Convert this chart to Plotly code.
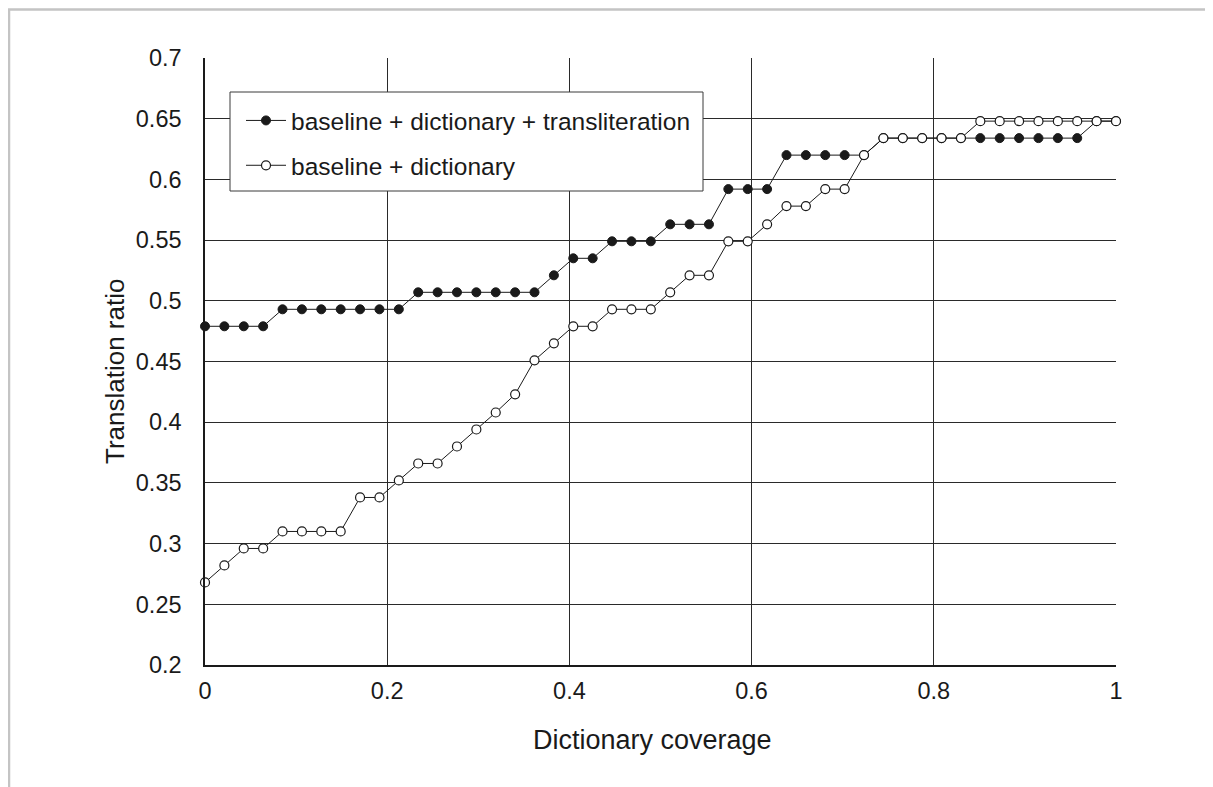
import plotly.graph_objects as go

# Dictionary coverage (48 evenly spaced steps from 0 to 1)
n_points = 48
coverage = [i / (n_points - 1) for i in range(n_points)]

# baseline + dictionary + transliteration (filled markers)
with_translit = [
    0.479, 0.479, 0.479, 0.479,
    0.493, 0.493, 0.493, 0.493, 0.493, 0.493, 0.493,
    0.507, 0.507, 0.507, 0.507, 0.507, 0.507, 0.507,
    0.521,
    0.535, 0.535,
    0.549, 0.549, 0.549,
    0.563, 0.563, 0.563,
    0.592, 0.592, 0.592,
    0.620, 0.620, 0.620, 0.620, 0.620,
    0.634, 0.634, 0.634, 0.634, 0.634, 0.634, 0.634, 0.634, 0.634, 0.634, 0.634,
    0.648, 0.648,
]

# baseline + dictionary (open markers)
dict_only = [
    0.268, 0.282, 0.296, 0.296,
    0.310, 0.310, 0.310, 0.310,
    0.338, 0.338, 0.352, 0.366, 0.366, 0.380, 0.394, 0.408,
    0.423, 0.451, 0.465, 0.479, 0.479,
    0.493, 0.493, 0.493, 0.507, 0.521, 0.521,
    0.549, 0.549, 0.563, 0.578, 0.578, 0.592, 0.592,
    0.620,
    0.634, 0.634, 0.634, 0.634, 0.634,
    0.648, 0.648, 0.648, 0.648, 0.648, 0.648, 0.648, 0.648,
]

series_names = ["baseline + dictionary + transliteration", "baseline + dictionary"]
x_ticks = [0, 0.2, 0.4, 0.6, 0.8, 1]
x_tick_text = ["0", "0.2", "0.4", "0.6", "0.8", "1"]
y_ticks = [0.2, 0.25, 0.3, 0.35, 0.4, 0.45, 0.5, 0.55, 0.6, 0.65, 0.7]
y_tick_text = ["0.2", "0.25", "0.3", "0.35", "0.4", "0.45", "0.5", "0.55", "0.6", "0.65", "0.7"]
x_title = "Dictionary coverage"
y_title = "Translation ratio"

FONT = "Liberation Sans, Arial, sans-serif"
INK = "#1a1a1a"

fig = go.Figure()
fig.add_trace(go.Scatter(
    x=coverage, y=with_translit, name=series_names[0], legendgroup="a",
    mode="lines+markers",
    line=dict(color=INK, width=1),
    marker=dict(symbol="circle", size=9, color=INK, line=dict(color=INK, width=1)),
    cliponaxis=False,
))
fig.add_trace(go.Scatter(
    x=coverage, y=dict_only, name=series_names[1], legendgroup="b",
    mode="lines+markers",
    line=dict(color=INK, width=1),
    marker=dict(symbol="circle", size=9, color="white", line=dict(color=INK, width=1.2)),
    cliponaxis=False,
))

# page has an 8px body margin; figure coordinates = page coordinates - 8
OFF = 8
W, H = 1205, 779
L, T = 205 - OFF, 58 - OFF
R = W - (1116 - OFF)
B = H - (665 - OFF)
pw, ph = W - L - R, H - T - B

def px_x(p):
    return (p - OFF - L) / pw

def px_y(p):
    return (H - B - (p - OFF)) / ph

fig.update_layout(
    width=W, height=H,
    margin=dict(l=L, r=R, t=T, b=B),
    paper_bgcolor="white", plot_bgcolor="white",
    font=dict(family=FONT, color=INK),
    showlegend=True,
    legend=dict(
        x=px_x(241), y=px_y(98), xanchor="left", yanchor="top",
        bgcolor="rgba(0,0,0,0)", borderwidth=0,
        font=dict(family=FONT, size=24.5, color=INK),
        tracegroupgap=10,
        itemwidth=40,
    ),
    xaxis=dict(
        range=[0, 1], tickvals=x_ticks, ticktext=x_tick_text,
        showgrid=True, gridcolor="#2a2a2a", gridwidth=1,
        showline=True, linecolor=INK, linewidth=1.5,
        zeroline=False, ticks="", ticklabelstandoff=4,
        tickfont=dict(family=FONT, size=23.5, color=INK),
    ),
    yaxis=dict(
        range=[0.2, 0.7], tickvals=y_ticks, ticktext=y_tick_text,
        showgrid=True, gridcolor="#2a2a2a", gridwidth=1,
        showline=True, linecolor=INK, linewidth=1.5,
        zeroline=False, ticks="", ticklabelstandoff=17,
        tickfont=dict(family=FONT, size=23.5, color=INK),
    ),
    annotations=[
        dict(text=x_title, xref="paper", yref="paper", x=px_x(652), y=px_y(740),
             xanchor="center", yanchor="middle", showarrow=False,
             font=dict(family=FONT, size=27, color=INK)),
        dict(text=y_title, xref="paper", yref="paper", x=px_x(115), y=px_y(372),
             xanchor="center", yanchor="middle", showarrow=False, textangle=-90,
             font=dict(family=FONT, size=26, color=INK)),
    ],
    shapes=[
        # legend box (covers grid lines, sits under the legend)
        dict(type="rect", xref="paper", yref="paper",
             x0=px_x(230), x1=px_x(703), y0=px_y(191), y1=px_y(92),
             fillcolor="white", line=dict(color="#3a3a3a", width=1), layer="above"),
        # light frame around the picture
        dict(type="path", xref="paper", yref="paper",
             path=f"M {px_x(9)},{px_y(800)} L {px_x(9)},{px_y(9.5)} L {px_x(1230)},{px_y(9.5)}",
             line=dict(color="#c4c4c4", width=2.5), layer="above"),
    ],
)

fig.write_html("out.html")
